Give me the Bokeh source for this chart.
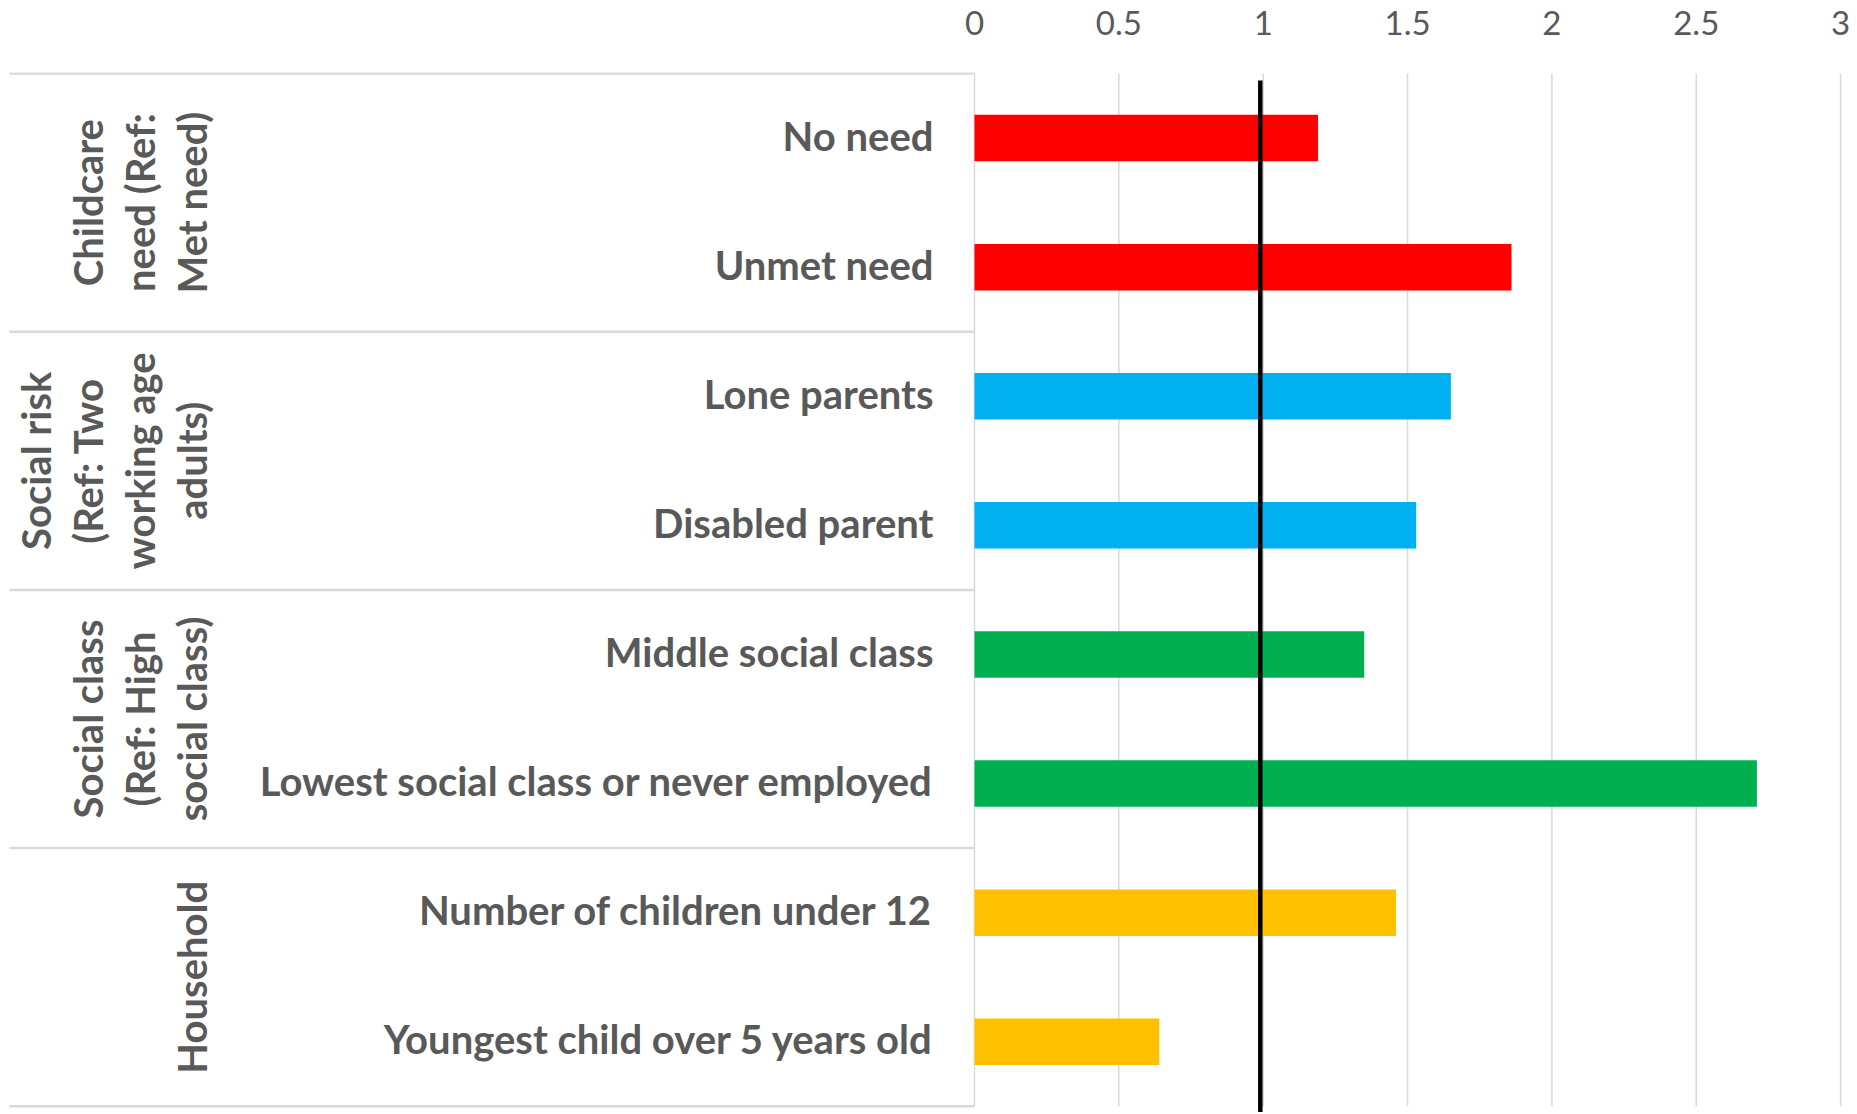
import numpy as np
from bokeh.plotting import figure
from bokeh.models import Range1d, FixedTicker
from bokeh.core.properties import value
from bokeh.embed import file_html
from bokeh.resources import INLINE

# ---------------- data ----------------
categories = [
    "No need",
    "Unmet need",
    "Lone parents",
    "Disabled parent",
    "Middle social class",
    "Lowest social class or never employed",
    "Number of children under 12",
    "Youngest child over 5 years old",
]
values = [1.19, 1.86, 1.65, 1.53, 1.35, 2.71, 1.46, 0.64]
group_lines = [
    ["Childcare", "need (Ref:", "Met need)"],
    ["Social risk", "(Ref: Two", "working age", "adults)"],
    ["Social class", "(Ref: High", "social class)"],
    ["Household"],
]
group_sizes = [2, 2, 2, 2]
group_colors = ["#FF0000", "#00B0F0", "#00B050", "#FFC000"]
x_ticks = [0, 0.5, 1, 1.5, 2, 2.5, 3]
tick_labels = ["0", "0.5", "1", "1.5", "2", "2.5", "3"]
reference_value = 0.99

# ---------------- layout ----------------
PX_PER_UNIT = 288.7
FIG_W = 1855
FIG_H = 1112
TOP_BORDER = 72
ROW_PX = 129.1
N = len(categories)
ORIGIN_PX = 974.0  # x=0 position from the page's left edge

FRAME_H = FIG_H - TOP_BORDER
x_start = -ORIGIN_PX / PX_PER_UNIT
x_end = x_start + FIG_W / PX_PER_UNIT
y_end = N + 1.0 / ROW_PX
y_start = y_end - FRAME_H / ROW_PX


def px_to_x(page_px):
    return x_start + page_px / PX_PER_UNIT


bar_colors = []
for c, n in zip(group_colors, group_sizes):
    bar_colors += [c] * n
y_centers = [N - 0.5 - i for i in range(N)]

p = figure(
    width=FIG_W, height=FIG_H,
    x_range=Range1d(x_start, x_end), y_range=Range1d(y_start, y_end),
    output_backend="svg", toolbar_location=None,
    x_axis_location="above", y_axis_location=None,
    min_border_top=TOP_BORDER, min_border_left=0, min_border_right=0, min_border_bottom=0,
)
p.outline_line_color = None
p.background_fill_color = "white"
p.border_fill_color = "white"

# x axis (above)
ax = p.xaxis[0]
ax.ticker = FixedTicker(ticks=x_ticks)
ax.major_label_overrides = {t: l for t, l in zip(x_ticks, tick_labels)}
ax.axis_line_color = None
ax.major_tick_line_color = None
ax.minor_tick_line_color = None
ax.major_label_standoff = 32
ax.major_label_text_font = "Lato"
ax.major_label_text_font_size = "33px"
ax.major_label_text_color = "#595959"

p.xgrid.visible = False
p.ygrid.visible = False

# vertical gridlines, limited to the category rows
p.segment(x0=x_ticks, y0=[0] * len(x_ticks), x1=x_ticks, y1=[N] * len(x_ticks),
          line_color="#D9D9D9", line_width=1.5)

# group separator lines in the label area
bounds = [N]
acc = N
for n in group_sizes:
    acc -= n
    bounds.append(acc)
p.segment(x0=[px_to_x(9)] * len(bounds), y0=bounds, x1=[0] * len(bounds), y1=bounds,
          line_color="#D9D9D9", line_width=2.5)

# bars
p.hbar(y=y_centers, left=0, right=values, height=0.36, fill_color=bar_colors,
       line_color=None)

# reference line
p.segment(x0=[reference_value], y0=[N - 7.0 / ROW_PX], x1=[reference_value], y1=[y_start],
          line_color="black", line_width=4.5)

# category labels
label_x = px_to_x(933)
label_y = [y + 2.5 / ROW_PX for y in y_centers]
p.text(x=[label_x] * N, y=label_y, text=categories,
       text_align="right", text_baseline="middle",
       text_font=value("Lato"), text_font_style="bold", text_font_size="40px",
       text_color="#595959")

# group labels (rotated, stacked lines)
gx, gy, gt = [], [], []
top = N
for lines, n in zip(group_lines, group_sizes):
    center = top - n / 2
    k = len(lines)
    for i, line in enumerate(lines):
        page_x = 191 - 52 * (k - 1 - i)
        gx.append(px_to_x(page_x))
        gy.append(center)
        gt.append(line)
    top -= n
p.text(x=gx, y=gy, text=gt, angle=np.pi / 2,
       text_align="center", text_baseline="middle",
       text_font=value("Lato"), text_font_style="bold", text_font_size="40px",
       text_color="#595959")

open("out.html", "w").write(file_html(p, INLINE))
